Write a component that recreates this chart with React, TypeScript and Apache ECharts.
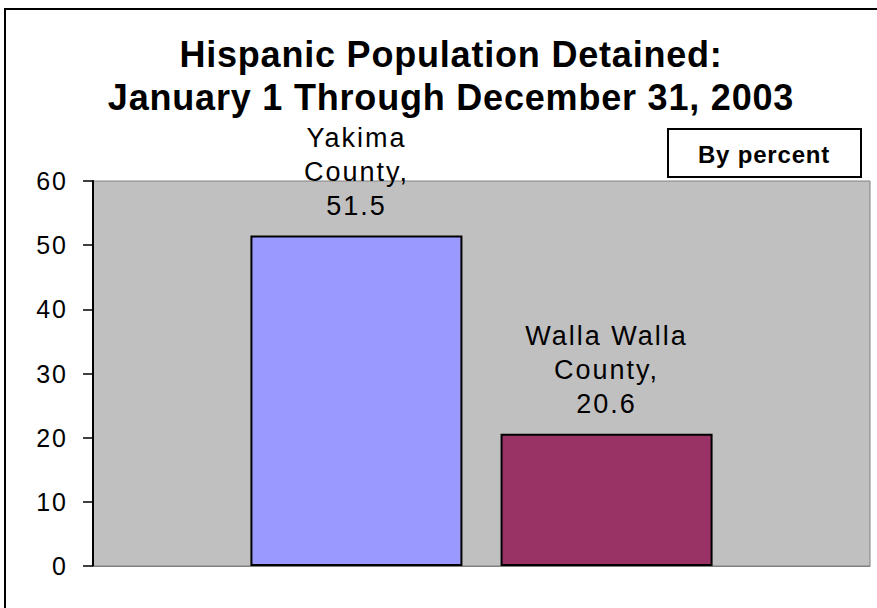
import React, { useEffect, useRef } from 'react';
import * as echarts from 'echarts';

const titleLines = ['Hispanic Population Detained:', 'January 1 Through December 31, 2003'];
const seriesNames = ['Yakima County', 'Walla Walla County'];
const labelNames = ['Yakima\nCounty,', 'Walla Walla\nCounty,'];
const values = [51.5, 20.6];
const colors = ['#9999FF', '#993366'];
const categories = [''];
const yMin = 0;
const yMax = 60;
const yInterval = 10;
const unitNote = 'By percent';

const FONT = '"Liberation Sans", Arial, Helvetica, sans-serif';

export default function App() {
  const ref = useRef<HTMLDivElement>(null);

  useEffect(() => {
    if (!ref.current) return;
    const chart = echarts.init(ref.current, undefined, { renderer: 'svg' });
    chart.setOption({
      animation: false,
      backgroundColor: '#ffffff',
      textStyle: { fontFamily: FONT },
      grid: {
        left: 93,
        right: 7,
        top: 181,
        bottom: 42,
        show: true,
        backgroundColor: '#C0C0C0',
        borderColor: '#808080',
        borderWidth: 1,
      },
      xAxis: {
        type: 'category',
        data: categories,
        axisLine: { show: true, lineStyle: { color: '#808080', width: 1 } },
        axisTick: { show: false },
        axisLabel: { show: false },
        splitLine: { show: false },
      },
      yAxis: {
        type: 'value',
        min: yMin,
        max: yMax,
        interval: yInterval,
        axisLine: { show: true, lineStyle: { color: '#000', width: 2 } },
        axisTick: { show: true, inside: false, length: 10, lineStyle: { color: '#000', width: 1.5 } },
        axisLabel: { color: '#000', fontSize: 25, margin: 25, fontFamily: FONT },
        splitLine: { show: false },
      },
      series: values.map((v, i) => ({
        type: 'bar',
        name: seriesNames[i],
        data: [v],
        barWidth: 212,
        barGap: '18%',
        itemStyle: { color: colors[i], borderColor: '#000', borderWidth: 2 },
        label: {
          show: true,
          position: 'top',
          distance: 13,
          formatter: `${labelNames[i]}\n${v}`,
          fontSize: 27,
          lineHeight: 34,
          color: '#000',
          fontFamily: FONT,
        },
      })),
      graphic: [
        {
          type: 'rect',
          shape: { x: 5, y: 9, width: 900, height: 700 },
          style: { fill: 'none', stroke: '#000', lineWidth: 2 },
          silent: true,
        },
        {
          type: 'rect',
          shape: { x: 668, y: 129, width: 193, height: 48 },
          style: { fill: '#fff', stroke: '#000', lineWidth: 2 },
          silent: true,
        },
        {
          type: 'text',
          x: 764,
          y: 154.5,
          style: {
            text: unitNote,
            fill: '#000',
            font: `bold 24px ${FONT}`,
            textAlign: 'center',
            textVerticalAlign: 'middle',
          },
        },
        ...titleLines.map((t, i) => ({
          type: 'text',
          x: 451,
          y: 54.5 + i * 43,
          style: {
            text: t,
            fill: '#000',
            font: `bold 36px ${FONT}`,
            textAlign: 'center',
            textVerticalAlign: 'middle',
          },
        })),
      ],
    });
    return () => chart.dispose();
  }, []);

  return (
    <>
      <style>{`#chartbox text{letter-spacing:2px} #chartbox text[style*="bold"]{letter-spacing:0.8px}`}</style>
      <div
        id="chartbox"
        ref={ref}
        style={{ position: 'absolute', left: 0, top: 0, width: 877, height: 608 }}
      />
    </>
  );
}
